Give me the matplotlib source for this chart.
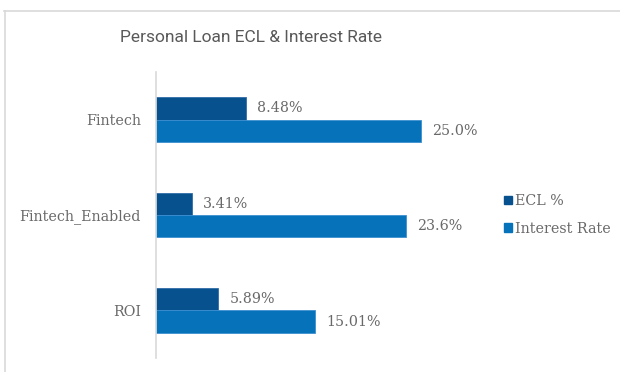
import matplotlib.pyplot as plt
from matplotlib.lines import Line2D
from matplotlib.patches import Patch

# Personal loan ECL vs interest rate by channel
categories = ['Fintech', 'Fintech_Enabled', 'ROI']
ecl = [8.48, 3.41, 5.89]
interest = [25.0, 23.6, 15.01]
ecl_labels = ['8.48%', '3.41%', '5.89%']
interest_labels = ['25.0%', '23.6%', '15.01%']

c_ecl = '#08518F'
c_int = '#0672B9'
c_text = '#696969'
c_line = '#D9D9D9'

W, H = 620, 372
fig = plt.figure(figsize=(W / 100, H / 100), dpi=100)
fig.patch.set_facecolor('white')

# chart border (only top and left edges fall inside the image)
fig.add_artist(Line2D([4 / W, 1], [1 - 11 / H, 1 - 11 / H], color=c_line, lw=1.2))
fig.add_artist(Line2D([4.5 / W, 4.5 / W], [0, 1 - 11 / H], color=c_line, lw=1.2))

ax = fig.add_axes([156 / W, 14 / H, 318 / W, 286 / H])

bar_h = 0.236
ypos = list(range(len(categories)))[::-1]  # Fintech on top
for i, y in enumerate(ypos):
    ax.barh(y + bar_h / 2, ecl[i], height=bar_h, color=c_ecl,
            edgecolor='#2F6DA8', linewidth=0.6)
    ax.barh(y - bar_h / 2, interest[i], height=bar_h, color=c_int,
            edgecolor='#3C8FD0', linewidth=0.6)
    ax.annotate(ecl_labels[i], (ecl[i], y + bar_h / 2), xytext=(8, 0),
                textcoords='offset points', va='center', ha='left',
                family='DejaVu Serif', fontsize=10.3, color=c_text)
    ax.annotate(interest_labels[i], (interest[i], y - bar_h / 2), xytext=(8, 0),
                textcoords='offset points', va='center', ha='left',
                family='DejaVu Serif', fontsize=10.3, color=c_text)

ax.set_xlim(0, 30)
ax.set_ylim(-0.5, 2.5)
ax.set_yticks(ypos)
ax.set_yticklabels(categories, family='DejaVu Serif', fontsize=10.3, color=c_text)
ax.tick_params(axis='y', length=0, pad=11)
ax.set_xticks([])
for s in ['top', 'right', 'bottom']:
    ax.spines[s].set_visible(False)
ax.spines['left'].set_color(c_line)
ax.spines['left'].set_linewidth(1.2)

fig.text(251 / W, 1 - 37 / H, 'Personal Loan ECL & Interest Rate',
         ha='center', va='center', family='Roboto', fontweight='normal',
         fontsize=12.5, color='#595959')

handles = [Patch(facecolor=c_ecl, edgecolor=c_ecl),
           Patch(facecolor=c_int, edgecolor=c_int)]
fig.legend(handles, ['ECL %', 'Interest Rate'], loc='center left',
           bbox_to_anchor=(491 / W, 1 - 215 / H), frameon=False,
           prop={'family': 'DejaVu Serif', 'size': 10.3},
           labelcolor=c_text, handlelength=0.55, handleheight=0.55,
           handletextpad=0.25, labelspacing=0.95)

fig.savefig('out.png', dpi=100, facecolor='white')
